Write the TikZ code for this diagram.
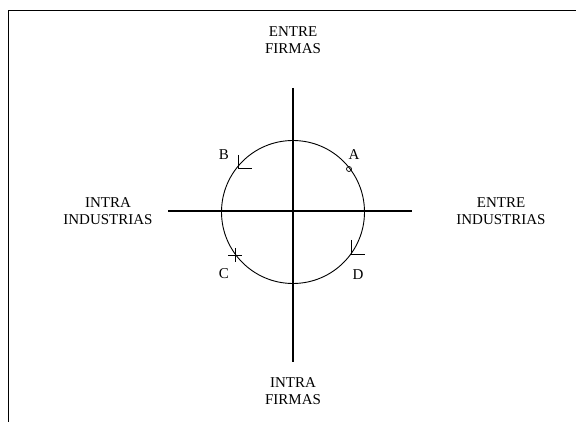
\documentclass[tikz,border=0pt]{standalone}
\usepackage{fontspec}
\setmainfont{Liberation Serif}
\begin{document}
\begin{tikzpicture}[x=1pt,y=-1pt,line width=0.9pt,
    lbl/.style={align=center,font=\fontsize{15}{17.5}\selectfont,inner sep=0pt}]
    \useasboundingbox (0,0) rectangle (576,422);
    \draw (8,422) -- (8,10) -- (576,10);
    \coordinate (O) at (293,212);
    \draw[line width=1.1pt] (168,211) -- (412,211);
    \draw[line width=1.1pt] (293,88) -- (293,362);
    \draw (O) circle (71.5);
    % markers on the circle
    \draw[line width=0.7pt] (349,169) circle (2.5);
    \draw[line width=0.7pt] (238,155) -- (238,168) -- (252,168);
    \draw[line width=0.7pt] (235,248) -- (235,262) (228,255) -- (242,255);
    \draw[line width=0.7pt] (351,240) -- (351,254) -- (365,254);
    \node[lbl] (A) at (354,155) {A};
    \node[lbl] (B) at (224,155) {B};
    \node[lbl] (C) at (224,274) {C};
    \node[lbl] (D) at (358,275) {D};
    \node[lbl] (ef) at (293,40) {ENTRE\\FIRMAS};
    \node[lbl] (if) at (293,391) {INTRA\\FIRMAS};
    \node[lbl] (ii) at (108,211) {INTRA\\INDUSTRIAS};
    \node[lbl] (ei) at (501,211) {ENTRE\\INDUSTRIAS};
\end{tikzpicture}
\end{document}
